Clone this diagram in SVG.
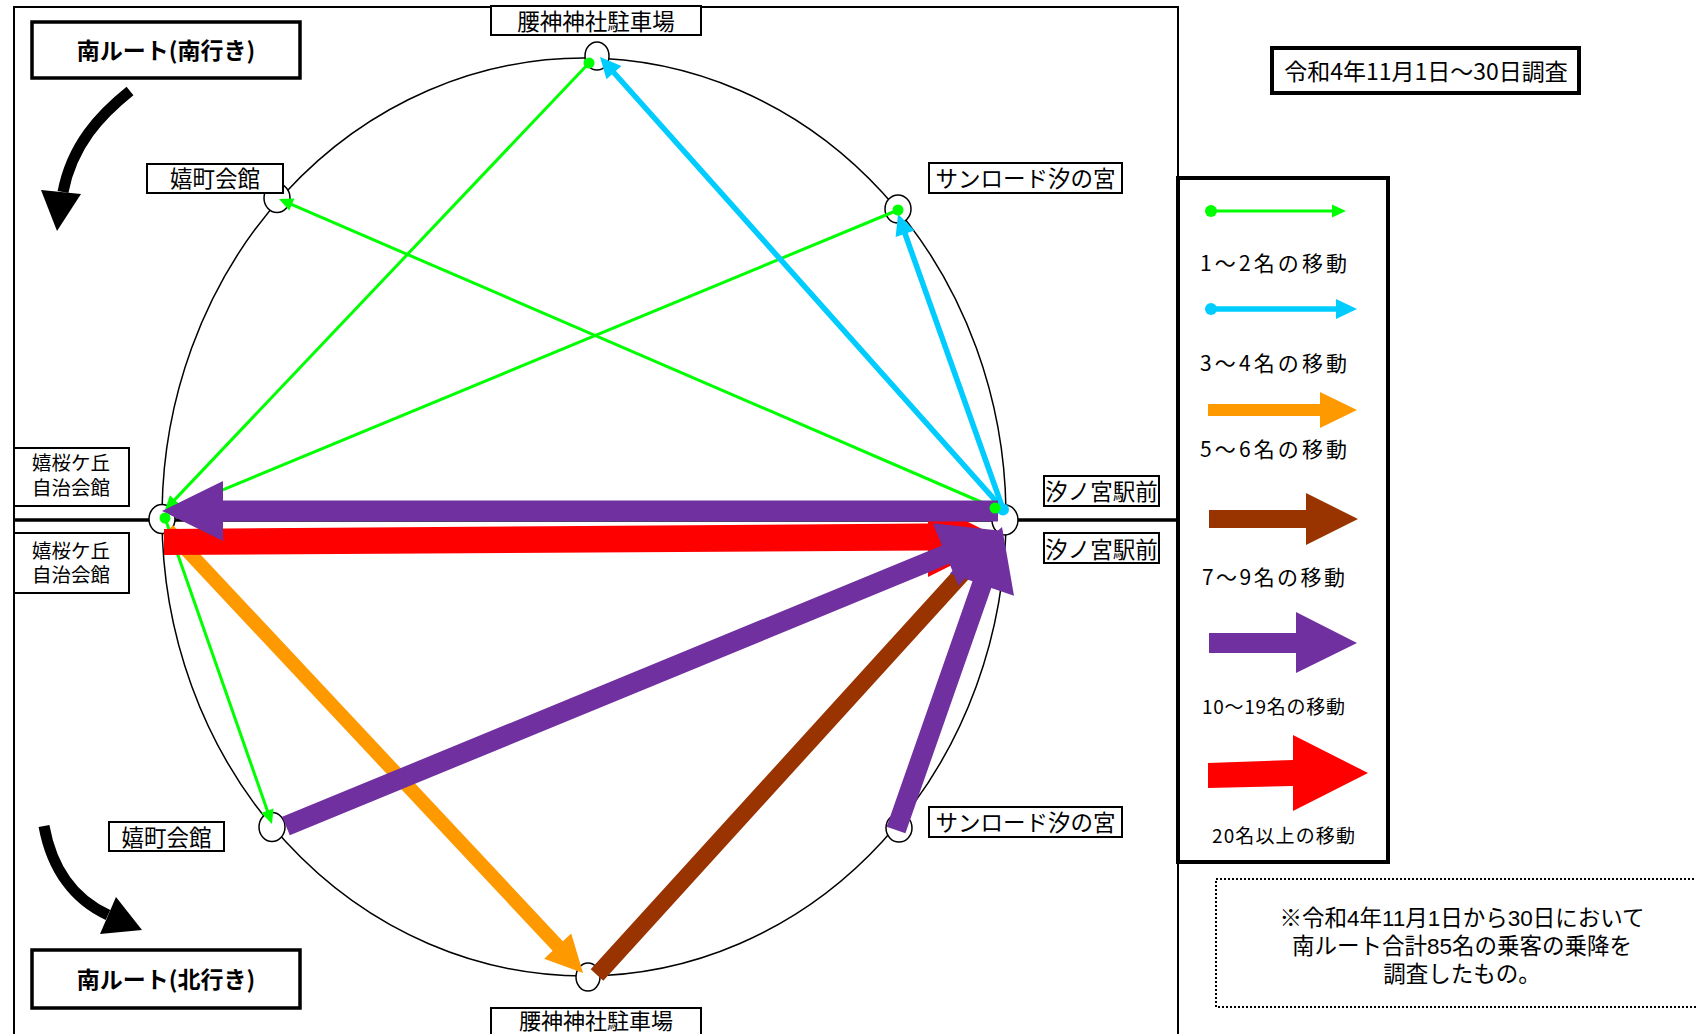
<svg xmlns="http://www.w3.org/2000/svg" width="1696" height="1034" viewBox="0 0 1696 1034">
<defs>
<style>
text{font-family:"Noto Sans CJK JP","Noto Sans",sans-serif;fill:#000}
.lbl{font-size:22.5px;text-anchor:middle;dominant-baseline:central}
.lbl2{font-family:"Liberation Sans","Noto Sans CJK JP",sans-serif;font-size:19.5px;text-anchor:middle;dominant-baseline:central}
.leg{font-size:21px;text-anchor:middle;dominant-baseline:central}
.legs{font-size:19px;text-anchor:middle;dominant-baseline:central}
.note{font-family:"Liberation Sans","Noto Sans CJK JP",sans-serif;font-size:22.5px;text-anchor:middle;dominant-baseline:central}
.title{font-size:23px;font-weight:bold;text-anchor:middle;dominant-baseline:central}
.box{fill:#fff;stroke:#000;stroke-width:2}
.tbox{fill:#fff;stroke:#000;stroke-width:3.5}
.stop{fill:#fff;stroke:#000;stroke-width:1.5}
.g{stroke:#00ff00;stroke-width:3;fill:none;marker-end:url(#mg)}
.c{stroke:#00ccff;stroke-width:5.5;fill:none;marker-end:url(#mc)}
.gd{fill:#00ff00}
.cd{fill:#00ccff}
.or{fill:#ff9900}
.br{fill:#993300}
.pu{fill:#7030a0}
.rd{fill:#ff0000}
.curve{fill:none;stroke:#000;stroke-width:11}
</style>
<marker id="mg" markerUnits="userSpaceOnUse" markerWidth="14" markerHeight="13" refX="8" refY="6.5" orient="auto" overflow="visible"><path d="M0,0L14,6.5L0,13z" fill="#00ff00"/></marker>
<marker id="mc" markerUnits="userSpaceOnUse" markerWidth="21" markerHeight="20" refX="13" refY="10" orient="auto" overflow="visible"><path d="M0,0L21,10L0,20z" fill="#00ccff"/></marker>
</defs>
<rect width="1696" height="1034" fill="#fff"/>

<g id="frame">
<path d="M14,1040V7H1178V1040" fill="none" stroke="#000" stroke-width="2"/>
<line x1="14" y1="520" x2="1178" y2="520" stroke="#000" stroke-width="3.5"/>
<ellipse cx="584" cy="517" rx="422" ry="459" fill="none" stroke="#000" stroke-width="1.5"/>
</g>

<g id="direction-south">
<rect class="tbox" x="32" y="22" width="268" height="56"/>
<text class="title" x="166" y="49">南ルート(南行き)</text>
<path class="curve" d="M130,91C100,115 72,145 63,192"/>
<polygon points="41,190 81,194 57,231" fill="#000"/>
</g>
<g id="direction-north">
<rect class="tbox" x="32" y="950" width="268" height="58"/>
<text class="title" x="166" y="978">南ルート(北行き)</text>
<path class="curve" d="M44,826C52,870 75,900 108,915"/>
<polygon points="116,897 100,934 142,930" fill="#000"/>
</g>

<g id="node-koshigami-top">
<ellipse class="stop" cx="597" cy="56" rx="12" ry="14"/>
<rect class="box" x="491" y="6" width="210" height="29"/>
<text class="lbl" x="596" y="19.5">腰神神社駐車場</text>
</g>
<g id="node-ureshicho-top">
<ellipse class="stop" cx="277" cy="198" rx="13" ry="14.5"/>
<rect class="box" x="147" y="164" width="136" height="29"/>
<text class="lbl" x="215" y="177">嬉町会館</text>
</g>
<g id="node-sunroad-top">
<ellipse class="stop" cx="898" cy="209" rx="13" ry="14"/>
<rect class="box" x="929" y="163" width="193" height="30"/>
<text class="lbl" x="1025.5" y="176.5">サンロード汐の宮</text>
</g>
<g id="node-ureshizakura-top">
<rect class="box" x="14" y="448" width="115" height="58"/>
<text class="lbl2" x="71" y="463">嬉桜ケ丘<tspan x="71" dy="25">自治会館</tspan></text>
</g>
<g id="node-ureshizakura">
<ellipse class="stop" cx="162" cy="519" rx="13" ry="14.5"/>
</g>
<g id="node-ureshizakura-bottom">
<rect class="box" x="14" y="533" width="115" height="60"/>
<text class="lbl2" x="71" y="550.5">嬉桜ケ丘<tspan x="71" dy="24">自治会館</tspan></text>
</g>
<g id="node-shionomiya">
<ellipse class="stop" cx="1005" cy="520" rx="13" ry="15"/>
<rect class="box" x="1044" y="476" width="115" height="30"/>
<text class="lbl" x="1101.5" y="490">汐ノ宮駅前</text>
<rect class="box" x="1044" y="533" width="115" height="30"/>
<text class="lbl" x="1101.5" y="547.5">汐ノ宮駅前</text>
</g>
<g id="node-ureshicho-bottom">
<ellipse class="stop" cx="272" cy="827" rx="13" ry="14.5"/>
<rect class="box" x="109" y="822" width="115" height="29"/>
<text class="lbl" x="166.5" y="835.5">嬉町会館</text>
</g>
<g id="node-sunroad-bottom">
<ellipse class="stop" cx="899" cy="828" rx="13" ry="14"/>
<rect class="box" x="929" y="807" width="193" height="30"/>
<text class="lbl" x="1025.5" y="821">サンロード汐の宮</text>
</g>
<g id="node-koshigami-bottom">
<ellipse class="stop" cx="588" cy="977" rx="12" ry="14"/>
<rect class="box" x="491" y="1008" width="210" height="40"/>
<text class="lbl" style="font-size:22px" x="596" y="1019">腰神神社駐車場</text>
</g>

<g id="connectors">
<line class="g" x1="589" y1="63" x2="169.1" y2="505.6"/>
<line class="g" x1="898" y1="210" x2="172.5" y2="510.7"/>
<line class="g" x1="995" y1="508" x2="284.5" y2="201.4"/>
<line class="g" x1="165" y1="518" x2="270" y2="818.3"/>
<line class="c" x1="1003" y1="509" x2="605.3" y2="63"/>
<line class="c" x1="1003" y1="509" x2="900.7" y2="221.5"/>
<polygon class="or" points="162.9,534.8 552.6,950.8 544.2,958.7 583,973 571.2,933.4 562.8,941.2 173.1,525.2"/>
<polygon class="rd" points="164,529 928,523.5 928,502 1003,539.5 928,577 928,550.5 164,555"/>
<polygon class="br" points="603.3,980.7 971.3,576.2 984.2,588 1000,532 945.8,553 958.7,564.8 590.7,969.3"/>
<polygon class="pu" points="998,500.5 223,500.5 223,481 162,511 223,541 223,521.5 998,521.5"/>
<polygon class="pu" points="289.8,835.3 949.5,563.8 958.6,586 1003,531 932.8,523.2 941.9,545.4 282.2,816.8"/>
<polygon class="pu" points="905.4,833.3 991.3,587.9 1014,595.8 1002,527 949.8,573.4 972.5,581.3 886.6,826.7"/>
<circle class="gd" cx="589" cy="63" r="5.5"/>
<circle class="gd" cx="898" cy="210" r="5.5"/>
<circle class="gd" cx="165" cy="518" r="5.5"/>
<circle class="cd" cx="1003" cy="509.5" r="6"/>
<circle class="gd" cx="995" cy="508" r="5.5"/>
</g>

<g id="date">
<rect x="1272" y="48" width="307" height="45" fill="#fff" stroke="#000" stroke-width="4"/>
<text class="lbl" style="font-size:23px" x="1426" y="70">令和4年11月1日～30日調査</text>
</g>

<g id="legend">
<rect x="1178" y="178" width="210" height="684" fill="#fff" stroke="#000" stroke-width="4"/>
<line class="g" x1="1211" y1="211" x2="1340" y2="211"/>
<circle class="gd" cx="1211" cy="211" r="6"/>
<text class="leg" x="1273.5" y="261.5" textLength="147" lengthAdjust="spacing">1～2名の移動</text>
<line class="c" x1="1211" y1="309" x2="1349" y2="309"/>
<circle class="cd" cx="1211" cy="309" r="6"/>
<text class="leg" x="1273.5" y="361.5" textLength="147" lengthAdjust="spacing">3～4名の移動</text>
<polygon class="or" points="1208,404 1320,404 1320,392 1357,410 1320,428 1320,416 1208,416"/>
<text class="leg" x="1273.5" y="447.5" textLength="147" lengthAdjust="spacing">5～6名の移動</text>
<polygon class="br" points="1209,510 1306,510 1306,493 1358,519 1306,545 1306,528 1209,528"/>
<text class="leg" x="1273.5" y="576" textLength="143" lengthAdjust="spacing">7～9名の移動</text>
<polygon class="pu" points="1209,633 1296,633 1296,612 1357,643 1296,673 1296,653 1209,653"/>
<text class="legs" x="1273.5" y="705.5" textLength="143" lengthAdjust="spacing">10～19名の移動</text>
<polygon class="rd" points="1208,763 1293,760 1293,735 1368,773 1293,811 1293,786 1208,788"/>
<text class="legs" x="1283.5" y="834" textLength="143" lengthAdjust="spacing">20名以上の移動</text>
</g>

<g id="note">
<rect x="1216" y="879" width="490" height="128" fill="none" stroke="#000" stroke-width="2" stroke-dasharray="2 2"/>
<text class="note" x="1462" y="918">※令和4年11月1日から30日において<tspan x="1462" dy="28">南ルート合計85名の乗客の乗降を</tspan><tspan x="1462" dy="28">調査したもの。</tspan></text>
</g>
</svg>
